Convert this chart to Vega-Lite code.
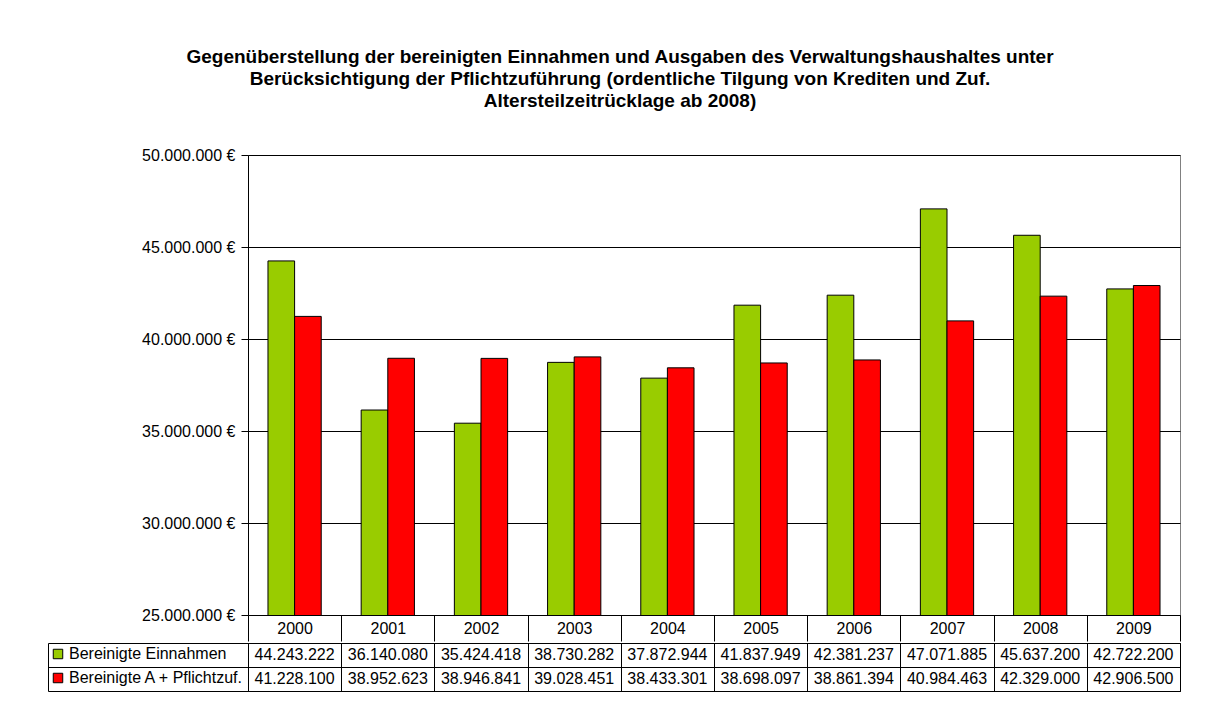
{
  "$schema": "https://vega.github.io/schema/vega-lite/v6.json",
  "padding": {"left": 47, "top": 47, "right": 5, "bottom": 5},
  "background": "white",
  "title": {
    "text": ["Gegenüberstellung der bereinigten Einnahmen und Ausgaben des Verwaltungshaushaltes unter", "Berücksichtigung der Pflichtzuführung (ordentliche Tilgung von Krediten und Zuf.", "Altersteilzeitrücklage ab 2008)"],
    "font": "Liberation Sans",
    "fontSize": 19,
    "fontWeight": "bold",
    "lineHeight": 22,
    "color": "black",
    "anchor": "middle",
    "offset": 36,
    "dx": 6
  },
  "data": {"values": [
    {"year": "2000", "series": "Bereinigte Einnahmen", "value": 44243222},
    {"year": "2001", "series": "Bereinigte Einnahmen", "value": 36140080},
    {"year": "2002", "series": "Bereinigte Einnahmen", "value": 35424418},
    {"year": "2003", "series": "Bereinigte Einnahmen", "value": 38730282},
    {"year": "2004", "series": "Bereinigte Einnahmen", "value": 37872944},
    {"year": "2005", "series": "Bereinigte Einnahmen", "value": 41837949},
    {"year": "2006", "series": "Bereinigte Einnahmen", "value": 42381237},
    {"year": "2007", "series": "Bereinigte Einnahmen", "value": 47071885},
    {"year": "2008", "series": "Bereinigte Einnahmen", "value": 45637200},
    {"year": "2009", "series": "Bereinigte Einnahmen", "value": 42722200},
    {"year": "2000", "series": "Bereinigte A + Pflichtzuf.", "value": 41228100},
    {"year": "2001", "series": "Bereinigte A + Pflichtzuf.", "value": 38952623},
    {"year": "2002", "series": "Bereinigte A + Pflichtzuf.", "value": 38946841},
    {"year": "2003", "series": "Bereinigte A + Pflichtzuf.", "value": 39028451},
    {"year": "2004", "series": "Bereinigte A + Pflichtzuf.", "value": 38433301},
    {"year": "2005", "series": "Bereinigte A + Pflichtzuf.", "value": 38698097},
    {"year": "2006", "series": "Bereinigte A + Pflichtzuf.", "value": 38861394},
    {"year": "2007", "series": "Bereinigte A + Pflichtzuf.", "value": 40984463},
    {"year": "2008", "series": "Bereinigte A + Pflichtzuf.", "value": 42329000},
    {"year": "2009", "series": "Bereinigte A + Pflichtzuf.", "value": 42906500}
  ]},
  "spacing": 0,
  "vconcat": [
    {
      "width": 932,
      "height": 460,
      "view": {"stroke": "#808080", "strokeWidth": 1},
      "mark": {"type": "bar", "stroke": "black", "strokeWidth": 1, "clip": true},
      "encoding": {
        "x": {
          "field": "year", "type": "nominal",
          "scale": {"paddingInner": 0, "paddingOuter": 0},
          "axis": {
            "title": null, "labelAngle": 0, "tickBand": "extent", "tickSize": 26,
            "tickColor": "black", "domainColor": "black", "labelPadding": -13,
            "labelBaseline": "middle", "labelFont": "Liberation Sans", "labelFontSize": 16,
            "labelColor": "black", "zindex": 1
          }
        },
        "xOffset": {
          "field": "series", "type": "nominal",
          "scale": {"domain": ["Bereinigte Einnahmen", "Bereinigte A + Pflichtzuf."], "paddingInner": 0, "paddingOuter": 0.75}
        },
        "y": {
          "field": "value", "type": "quantitative",
          "scale": {"domain": [25000000, 50000000], "zero": false, "nice": false},
          "axis": {
            "title": null, "values": [25000000, 30000000, 35000000, 40000000, 45000000, 50000000],
            "format": "$,.0f", "grid": true, "gridColor": "black", "gridWidth": 1, "gridOpacity": 1,
            "tickColor": "black", "tickSize": 7, "domainColor": "black", "labelPadding": 6,
            "labelFont": "Liberation Sans", "labelFontSize": 16, "labelColor": "black"
          }
        },
        "color": {
          "field": "series", "type": "nominal",
          "scale": {"domain": ["Bereinigte Einnahmen", "Bereinigte A + Pflichtzuf."], "range": ["#99CC00", "#FF0000"]},
          "legend": {
            "orient": "none", "legendX": -198, "legendY": 491, "title": null,
            "symbolType": "square", "symbolSize": 90, "symbolStrokeColor": "black", "symbolStrokeWidth": 1,
            "labelFont": "Liberation Sans", "labelFontSize": 16, "labelColor": "black",
            "labelOffset": 3, "rowPadding": 8, "labelLimit": 400
          }
        }
      }
    },
    {
      "width": 932,
      "height": 48,
      "view": {"stroke": "black", "strokeWidth": 1},
      "mark": {"type": "text", "font": "Liberation Sans", "fontSize": 16, "color": "black"},
      "encoding": {
        "x": {
          "field": "year", "type": "nominal",
          "scale": {"paddingInner": 0, "paddingOuter": 0},
          "axis": {"title": null, "labels": false, "ticks": false, "domain": false, "grid": true,
                   "tickBand": "extent", "gridColor": "black", "gridOpacity": 1}
        },
        "y": {
          "field": "series", "type": "nominal",
          "scale": {"domain": ["Bereinigte Einnahmen", "Bereinigte A + Pflichtzuf."], "paddingInner": 0, "paddingOuter": 0},
          "axis": {"title": null, "labels": false, "ticks": true, "tickSize": -200, "tickColor": "black",
                   "domain": true, "domainColor": "black", "offset": 200, "grid": true,
                   "tickBand": "extent", "gridColor": "black", "gridOpacity": 1}
        },
        "text": {"field": "value", "type": "quantitative", "format": ",.0f"}
      }
    }
  ],
  "config": {
    "locale": {"number": {"decimal": ",", "thousands": ".", "grouping": [3], "currency": ["", " €"]}},
    "font": "Liberation Sans"
  }
}
